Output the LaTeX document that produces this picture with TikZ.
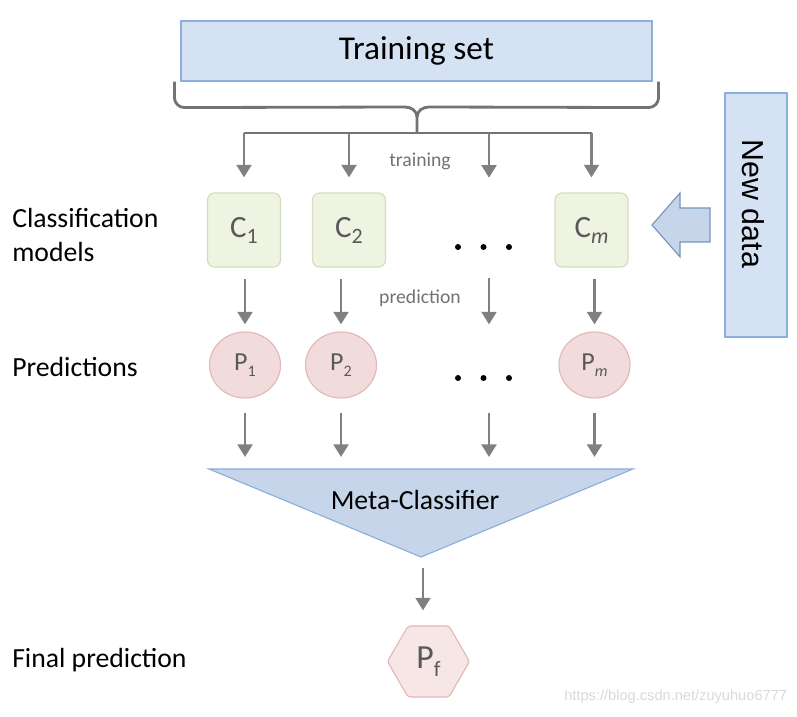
\documentclass[tikz,border=0pt]{standalone}
\usepackage{fontspec}
\setmainfont{Carlito}
\newfontfamily\arialfont{Liberation Sans}
\usetikzlibrary{arrows.meta,shapes.geometric}
\definecolor{setblue}{HTML}{D5E2F3}
\definecolor{setedge}{HTML}{8CAEDB}
\definecolor{modgreen}{HTML}{EEF3E2}
\definecolor{modedge}{HTML}{D3DEBE}
\definecolor{predpink}{HTML}{F2DCDB}
\definecolor{prededge}{HTML}{E3B7B6}
\definecolor{metablue}{HTML}{C6D5EA}
\definecolor{arrgray}{HTML}{808080}
\definecolor{txtgray}{HTML}{595959}
% C_i and P_i with a smaller, lowered index
\newcommand{\modlbl}[1]{{\fontsize{22}{22}\selectfont C}\raisebox{-4.3pt}{\fontsize{15.6}{15.6}\selectfont #1}}
\newcommand{\predlbl}[1]{{\fontsize{18.5}{18.5}\selectfont P}\raisebox{-4.5pt}{\fontsize{11.4}{11.4}\selectfont #1}}
\begin{document}
\begin{tikzpicture}[
    arr/.style={draw=arrgray, line width=2.1pt, -{Triangle[width=10.5pt,length=9pt]}},
    brace/.style={draw=arrgray!90!black, line width=2pt},
    setbox/.style={fill=setblue, draw=setedge, line width=0.8pt},
    model/.style={fill=modgreen, draw=modedge, line width=0.8pt, rounded corners=5pt,
        minimum width=1.825cm, minimum height=1.85cm, text=txtgray},
    pred/.style={ellipse, fill=predpink, draw=prededge, line width=0.8pt,
        minimum width=1.775cm, minimum height=1.65cm, inner sep=0pt, text=txtgray},
    gap/.style={minimum width=1.825cm, minimum height=1.85cm},
    side/.style={anchor=west, align=left, inner sep=0pt, font=\fontsize{19.7}{24.2}\selectfont},
    small/.style={text=txtgray!85, font=\fontsize{14}{14}\selectfont}]
    \useasboundingbox (0,0) rectangle (19.925,17.9);

    % training set and its brace
    \node[setbox, minimum width=11.775cm, minimum height=1.5cm,
        font=\fontsize{23.7}{23.7}\selectfont] (set) at (10.4125,16.625) {Training set};
    \coordinate (split) at (10.425,14.575);
    \draw[brace] ([xshift=-0.15cm]set.south west) -- ++(0,-0.4) to[out=-90,in=180] ++(0.25,-0.25)
        -- (10.125,15.225) to[out=0,in=90] (10.425,14.975) -- (split);
    \draw[brace] ([xshift=0.15cm]set.south east) -- ++(0,-0.4) to[out=-90,in=0] ++(-0.25,-0.25)
        -- (10.725,15.225) to[out=180,in=90] (10.425,14.975);

    % models
    \node[model] (C1) at (6.1,12.15) {\modlbl{1}};
    \node[model] (C2) at (8.725,12.15) {\modlbl{2}};
    \node[gap] (C3) at (12.225,12.15) {};
    \node[model] (Cm) at (14.7875,12.15) {\modlbl{\textit{m}}};

    % predictions
    \node[pred] (P1) at (6.125,8.775) {\predlbl{1}};
    \node[pred] (P2) at (8.525,8.775) {\predlbl{2}};
    \node[pred, draw=none, fill=none] (P3) at (12.225,8.775) {};
    \node[pred] (Pm) at (14.8625,8.775) {\predlbl{\textit{m}}};

    \foreach \dx in {-0.775,-0.1375,0.5} {
        \fill ([xshift=\dx cm, yshift=-0.425cm]C3.center) circle (0.075);
        \fill ([xshift=\dx cm, yshift=-0.325cm]P3.center) circle (0.075);
    }

    % training arrows
    \draw[brace] (C1.north |- split) -- (Cm.north |- split);
    \foreach \c in {C1,C2,C3,Cm}
        \draw[arr, shorten >=0.375cm] (\c.north |- split) -- (\c.north);
    \node[small] (train) at (10.5,13.875) {training};

    % prediction arrows
    \foreach \c/\p in {C1/P1,C2/P2,C3/P3,Cm/Pm}
        \draw[arr, shorten <=0.275cm, shorten >=0.175cm] (\c.south -| \p.north) -- (\p.north);
    \node[small] (predict) at (10.5,10.45) {prediction};

    % meta classifier
    \coordinate (top) at (10.525,6.175);
    \coordinate (apex) at (10.525,3.975);
    \filldraw[fill=metablue, draw=setedge, line width=0.8pt] (5.225,6.175) -- (15.825,6.175) -- (apex) -- cycle;
    \node[font=\fontsize{19.7}{19.7}\selectfont] (meta) at (10.375,5.4) {Meta-Classifier};
    \foreach \p in {P1,P2,P3,Pm}
        \draw[arr, shorten <=0.35cm, shorten >=0.3cm] (\p.south) -- (\p.south |- top);

    % final prediction
    \node[regular polygon, regular polygon sides=6, minimum size=2.05cm, inner sep=0pt,
        fill=predpink!70!white, draw=prededge, line width=0.8pt, rounded corners=2pt, text=txtgray]
        (Pf) at (10.7125,1.3625) {{\fontsize{24}{24}\selectfont P}\raisebox{-5.5pt}{\fontsize{15.6}{15.6}\selectfont f}};
    \draw[arr, shorten <=0.275cm, shorten >=0.375cm] ([xshift=0.05cm]apex) -- ([xshift=0.05cm]apex |- Pf.north);

    % new data
    \node[setbox, minimum width=1.55cm, minimum height=6.1cm] (new) at (18.9,12.525) {};
    \node[rotate=-90, font=\arialfont\fontsize{21.6}{21.6}\selectfont] (newtxt)
        at ([xshift=-0.075cm, yshift=0.275cm]new.center) {New data};
    \filldraw[fill=metablue, draw=setedge!85!black, line width=0.8pt] (17.75,12.7) -- (17.0,12.7) -- (17.0,13.075)
        -- (16.3,12.275) -- (17.0,11.475) -- (17.0,11.85) -- (17.75,11.85) -- cycle;

    % row labels
    \node[side] (lblC) at (0.3,12.025) {Classification\\models};
    \node[side] (lblP) at (0.3,8.725) {Predictions};
    \node[side] (lblF) at (0.3,1.4) {Final prediction};

    \node[anchor=east, text=black!15, font=\arialfont\fontsize{10.4}{10.4}\selectfont] (mark)
        at (19.8,0.475) {https://blog.csdn.net/zuyuhuo6777};
\end{tikzpicture}
\end{document}
